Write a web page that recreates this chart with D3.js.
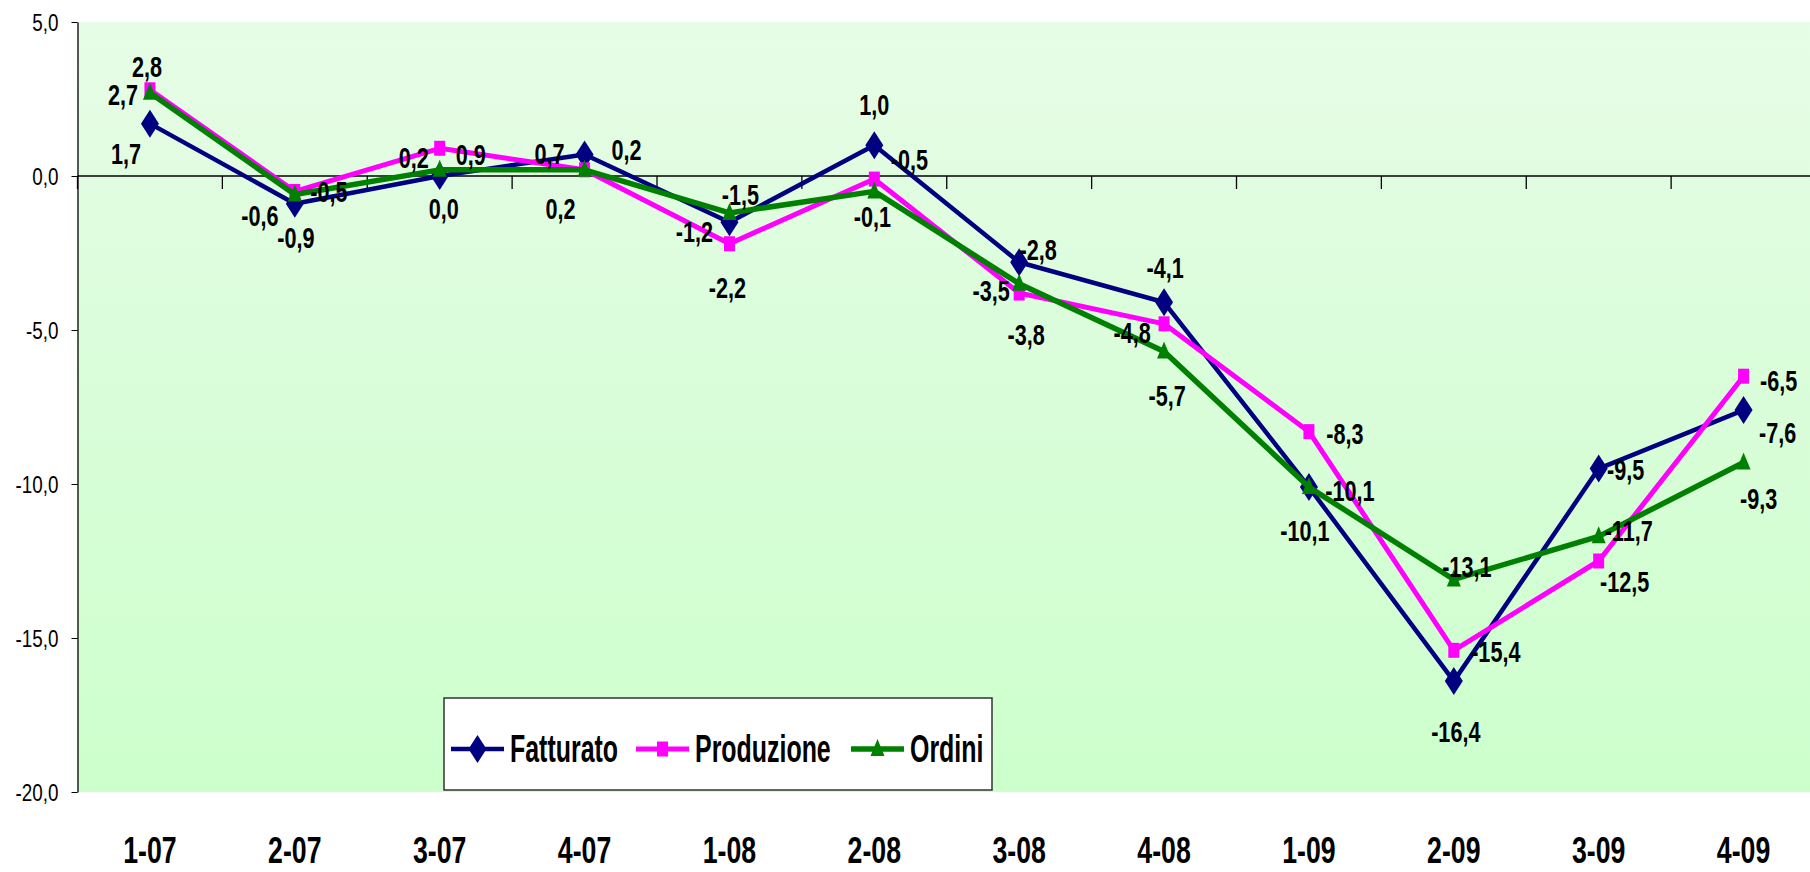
<!DOCTYPE html>
<html>
<head>
<meta charset="utf-8">
<script src="https://cdn.jsdelivr.net/npm/d3@7"></script>
<style>
  body { margin: 0; background: #fff; }
  svg { display: block; }
  text { font-family: "Liberation Sans", Arial, sans-serif; fill: #000; }
</style>
</head>
<body>
<svg></svg>
<script>
// quarters
var categories = ["1-07", "2-07", "3-07", "4-07", "1-08", "2-08", "3-08", "4-08", "1-09", "2-09", "3-09", "4-09"];

var fatturato  = [1.7, -0.9, 0.0, 0.7, -1.5, 1.0, -2.8, -4.1, -10.1, -16.4, -9.5, -7.6];
var produzione = [2.8, -0.5, 0.9, 0.2, -2.2, -0.1, -3.8, -4.8, -8.3, -15.4, -12.5, -6.5];
var ordini     = [2.7, -0.6, 0.2, 0.2, -1.2, -0.5, -3.5, -5.7, -10.1, -13.1, -11.7, -9.3];

var seriesNames = ["Fatturato", "Produzione", "Ordini"];
var yTicks = [5, 0, -5, -10, -15, -20];

// label offsets (pixels from the point), hand placed like in the original
var offFatturato  = [[-24, 30], [1, 34], [4, 32], [-35, -1], [11, -28], [0, -41], [19, -13], [1, -35], [-4, 43], [2, 50], [27, 1], [34, 22]];
var offProduzione = [[-3, -24], [34, 0], [31, 6], [42, -21], [-2, 43], [-2, 37], [7, 41], [-32, 8], [36, 2], [42, 1], [26, 20], [35, 4]];
var offOrdini     = [[-27, 1], [-35, 21], [-26, -13], [-24, 38], [-35, 18], [35, -32], [-28, 6], [3, 44], [41, 3], [13, -13], [30, -6], [15, 36]];

var w = 1810;
var h = 872;

// narrow font look: Liberation Sans squeezed
var narrow = 0.82;

var svg = d3.select("svg")
    .attr("width", w)
    .attr("height", h);

var pLeft = 77.5, pRight = 1816, pTop = 22, pBottom = 792;

var x = d3.scaleBand()
    .domain(categories)
    .range([pLeft, pRight]);

var y = d3.scaleLinear()
    .domain([-20, 5])
    .range([pBottom, pTop]);

var cx = function (c) { return x(c) + x.bandwidth() / 2; };
var fmt = function (v) { return v.toFixed(1).replace(".", ","); };

// background gradient
var grad = svg.append("defs").append("linearGradient")
    .attr("id", "bg")
    .attr("x1", 0).attr("y1", 0).attr("x2", 0).attr("y2", 1);
grad.append("stop").attr("offset", "0%").attr("stop-color", "#e6fce6");
grad.append("stop").attr("offset", "100%").attr("stop-color", "#ccffcc");

svg.append("rect")
    .attr("x", pLeft)
    .attr("y", pTop)
    .attr("width", pRight - pLeft)
    .attr("height", pBottom - pTop)
    .attr("fill", "url(#bg)");

// y axis
var yAxis = d3.axisLeft(y)
    .tickValues(yTicks)
    .tickFormat(fmt)
    .tickSize(6)
    .tickSizeOuter(0)
    .tickPadding(12);

var gy = svg.append("g")
    .attr("transform", "translate(" + pLeft + ",0)")
    .call(yAxis);
gy.attr("font-family", null).attr("font-size", null);
gy.select(".domain").attr("stroke", "#000").attr("stroke-width", 1.3);
gy.selectAll(".tick line").attr("stroke", "#000");
gy.selectAll(".tick text").remove();
gy.selectAll(".tick").append("text")
    .attr("transform", "translate(-19,8) scale(" + narrow + ",1)")
    .attr("text-anchor", "end")
    .attr("font-size", 23)
    .text(fmt);

// x axis line at zero with ticks between categories
svg.append("line")
    .attr("x1", pLeft).attr("x2", w)
    .attr("y1", y(0)).attr("y2", y(0))
    .attr("stroke", "#000")
    .attr("stroke-width", 1.3);

svg.selectAll(".xtick")
    .data(categories)
    .enter()
    .append("line")
    .attr("class", "xtick")
    .attr("x1", function (d) { return x(d); })
    .attr("x2", function (d) { return x(d); })
    .attr("y1", y(0))
    .attr("y2", y(0) + 13)
    .attr("stroke", "#000")
    .attr("stroke-width", 1.3);

// category labels at bottom
svg.selectAll(".xlab")
    .data(categories)
    .enter()
    .append("text")
    .attr("class", "xlab")
    .attr("transform", function (d) { return "translate(" + cx(d) + ",863) scale(" + (0.88 * narrow) + ",1)"; })
    .attr("text-anchor", "middle")
    .attr("font-size", 37)
    .attr("font-weight", "bold")
    .text(function (d) { return d; });

// marker shapes
var diamond = "M0,-14L9,0L0,14L-9,0Z";
var square = "M-5.5,-7.5L5.5,-7.5L5.5,7.5L-5.5,7.5Z";
var triangle = "M0,-10L7,7L-7,7Z";

var series = [
    { name: seriesNames[0], values: fatturato,  offs: offFatturato,  color: "#000080", width: 4.5, shape: diamond },
    { name: seriesNames[1], values: produzione, offs: offProduzione, color: "#ff00ff", width: 5,   shape: square },
    { name: seriesNames[2], values: ordini,     offs: offOrdini,     color: "#008000", width: 5.5, shape: triangle }
];

var line = d3.line()
    .x(function (d, i) { return cx(categories[i]); })
    .y(function (d) { return y(d); });

series.forEach(function (s) {
    var g = svg.append("g");
    g.append("path")
        .attr("d", line(s.values))
        .attr("fill", "none")
        .attr("stroke", s.color)
        .attr("stroke-width", s.width)
        .attr("stroke-linejoin", "round");
    g.selectAll("path.mk")
        .data(s.values)
        .enter()
        .append("path")
        .attr("class", "mk")
        .attr("d", s.shape)
        .attr("fill", s.color)
        .attr("transform", function (d, i) {
            return "translate(" + cx(categories[i]) + "," + y(d) + ")";
        });
});

// data labels on top
var fs = 30;
series.forEach(function (s) {
    svg.append("g").selectAll("text")
        .data(s.values)
        .enter()
        .append("text")
        .attr("text-anchor", "middle")
        .attr("font-size", fs)
        .attr("font-weight", "bold")
        .attr("transform", function (d, i) {
            var px = cx(categories[i]) + s.offs[i][0];
            var py = y(d) + s.offs[i][1] + fs * 0.358;
            return "translate(" + px + "," + py + ") scale(" + (0.88 * narrow) + ",1)";
        })
        .text(function (d) { return fmt(d); });
});

// legend
var legend = svg.append("g");
legend.append("rect")
    .attr("x", 444)
    .attr("y", 698)
    .attr("width", 548)
    .attr("height", 92)
    .attr("fill", "#fff")
    .attr("stroke", "#333")
    .attr("stroke-width", 1.5);

var legX = [451, 636, 851];
series.forEach(function (s, i) {
    var lg = legend.append("g").attr("transform", "translate(" + legX[i] + ",749)");
    lg.append("line")
        .attr("x1", 0).attr("x2", 53)
        .attr("stroke", s.color)
        .attr("stroke-width", s.width);
    lg.append("path")
        .attr("d", s.shape)
        .attr("fill", s.color)
        .attr("transform", "translate(26.5,0)");
    lg.append("text")
        .attr("transform", "translate(59,13) scale(" + (0.78 * narrow) + ",1)")
        .attr("font-size", 39)
        .attr("font-weight", "bold")
        .text(s.name);
});
</script>
</body>
</html>
